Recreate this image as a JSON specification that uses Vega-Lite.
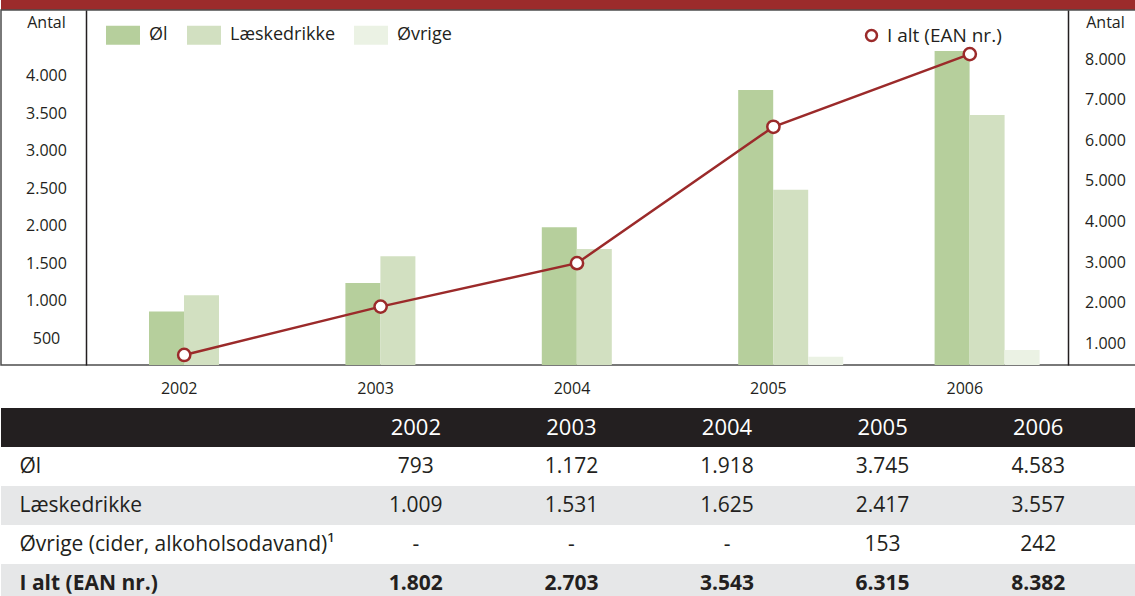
{
  "$schema": "https://vega.github.io/schema/vega-lite/v6.json",
  "padding": 0,
  "spacing": 0,
  "bounds": "flush",
  "background": "white",
  "config": {"view": {"stroke": null}, "font": "Open Sans", "text": {"font": "Open Sans"}},
  "datasets": {
    "bars": [
      {"year": "2002", "series": "Øl", "value": 793},
      {"year": "2002", "series": "Læskedrikke", "value": 1009},
      {"year": "2003", "series": "Øl", "value": 1172},
      {"year": "2003", "series": "Læskedrikke", "value": 1531},
      {"year": "2004", "series": "Øl", "value": 1918},
      {"year": "2004", "series": "Læskedrikke", "value": 1625},
      {"year": "2005", "series": "Øl", "value": 3745},
      {"year": "2005", "series": "Læskedrikke", "value": 2417},
      {"year": "2005", "series": "Øvrige", "value": 190},
      {"year": "2006", "series": "Øl", "value": 4267},
      {"year": "2006", "series": "Læskedrikke", "value": 3413},
      {"year": "2006", "series": "Øvrige", "value": 280}
    ],
    "total": [
      {"year": "2002", "total": 590},
      {"year": "2003", "total": 1780},
      {"year": "2004", "total": 2850},
      {"year": "2005", "total": 6210},
      {"year": "2006", "total": 8000}
    ],
    "rows": [
      {"row": "hdr"},
      {"row": "Øl"},
      {"row": "Læskedrikke"},
      {"row": "Øvrige (cider, alkoholsodavand)¹"},
      {"row": "I alt (EAN nr.)"}
    ],
    "table": [
      {"row": "hdr", "year": "2002", "text": "2002"},
      {"row": "hdr", "year": "2003", "text": "2003"},
      {"row": "hdr", "year": "2004", "text": "2004"},
      {"row": "hdr", "year": "2005", "text": "2005"},
      {"row": "hdr", "year": "2006", "text": "2006"},
      {"row": "Øl", "year": "2002", "text": "793"},
      {"row": "Øl", "year": "2003", "text": "1.172"},
      {"row": "Øl", "year": "2004", "text": "1.918"},
      {"row": "Øl", "year": "2005", "text": "3.745"},
      {"row": "Øl", "year": "2006", "text": "4.583"},
      {"row": "Læskedrikke", "year": "2002", "text": "1.009"},
      {"row": "Læskedrikke", "year": "2003", "text": "1.531"},
      {"row": "Læskedrikke", "year": "2004", "text": "1.625"},
      {"row": "Læskedrikke", "year": "2005", "text": "2.417"},
      {"row": "Læskedrikke", "year": "2006", "text": "3.557"},
      {"row": "Øvrige (cider, alkoholsodavand)¹", "year": "2002", "text": "-"},
      {"row": "Øvrige (cider, alkoholsodavand)¹", "year": "2003", "text": "-"},
      {"row": "Øvrige (cider, alkoholsodavand)¹", "year": "2004", "text": "-"},
      {"row": "Øvrige (cider, alkoholsodavand)¹", "year": "2005", "text": "153"},
      {"row": "Øvrige (cider, alkoholsodavand)¹", "year": "2006", "text": "242"},
      {"row": "I alt (EAN nr.)", "year": "2002", "text": "1.802"},
      {"row": "I alt (EAN nr.)", "year": "2003", "text": "2.703"},
      {"row": "I alt (EAN nr.)", "year": "2004", "text": "3.543"},
      {"row": "I alt (EAN nr.)", "year": "2005", "text": "6.315"},
      {"row": "I alt (EAN nr.)", "year": "2006", "text": "8.382"}
    ]
  },
  "vconcat": [
    {
      "width": 1135,
      "height": 10,
      "data": {"values": [{"band": "top"}]},
      "mark": {"type": "rect", "color": "#9c2b2b"},
      "encoding": {}
    },
    {
      "width": 1135,
      "height": 355,
      "view": {"stroke": "#4d4d4d", "strokeWidth": 1.5},
      "layer": [
        {
          "data": {"name": "bars"},
          "mark": {"type": "bar", "clip": true},
          "encoding": {
            "x": {
              "field": "year", "type": "ordinal",
              "scale": {"range": [85, 1067], "paddingInner": 0, "paddingOuter": 0},
              "axis": {"orient": "bottom", "title": null, "domain": false, "ticks": false, "tickSize": 0, "labelAngle": 0, "labelBaseline": "middle", "labelPadding": 23, "labelOffset": -5, "labelFontSize": 16, "labelColor": "#231f20", "labelFont": "Open Sans"}
            },
            "xOffset": {
              "field": "series", "type": "nominal",
              "scale": {"domain": ["Øl", "Læskedrikke", "Øvrige"], "range": [63, 168], "paddingInner": 0, "paddingOuter": 0}
            },
            "y": {
              "field": "value", "type": "quantitative",
              "scale": {"domain": [80, 4813], "zero": false, "nice": false},
              "axis": {
                "orient": "left", "offset": -85,
                "values": [500, 1000, 1500, 2000, 2500, 3000, 3500, 4000],
                "labelExpr": "replace(format(datum.value, ','), ',', '.')",
                "grid": false, "ticks": false, "tickSize": 0,
                "domain": true, "domainColor": "#231f20", "domainWidth": 1.5,
                "labelAlign": "center", "labelPadding": 40, "labelOffset": 5,
                "labelFontSize": 16, "labelColor": "#231f20", "labelFont": "Open Sans",
                "title": "Antal", "titleAngle": 0, "titleAlign": "center", "titleBaseline": "middle",
                "titleX": -40, "titleY": 12, "titleFontSize": 16, "titleFontWeight": "normal",
                "titleColor": "#231f20", "titleFont": "Open Sans"
              }
            },
            "color": {
              "field": "series", "type": "nominal",
              "scale": {"domain": ["Øl", "Læskedrikke", "Øvrige"], "range": ["#b6cf9c", "#d2e0c1", "#ebf2e4"]},
              "legend": {
                "orient": "none", "legendX": 105, "legendY": 18, "direction": "horizontal",
                "title": null, "padding": 0,
                "symbolType": "M-1,-0.56H1V0.56H-1Z", "symbolSize": 1156, "symbolStrokeWidth": 0,
                "labelFontSize": 18, "labelColor": "#231f20", "labelFont": "Open Sans",
                "labelOffset": 9, "columnPadding": 19
              }
            }
          }
        },
        {
          "data": {"name": "total"},
          "layer": [
            {
              "mark": {"type": "line", "strokeWidth": 2.5},
              "encoding": {
                "x": {"field": "year", "type": "ordinal"},
                "y": {
                  "field": "total", "type": "quantitative",
                  "scale": {"domain": [342, 9086], "zero": false, "nice": false},
                  "axis": {
                    "orient": "right", "offset": -68,
                    "values": [1000, 2000, 3000, 4000, 5000, 6000, 7000, 8000],
                    "labelExpr": "replace(format(datum.value, ','), ',', '.')",
                    "grid": false, "ticks": false, "tickSize": 0,
                    "domain": true, "domainColor": "#231f20", "domainWidth": 1.5,
                    "labelAlign": "center", "labelPadding": 37, "labelOffset": 5,
                    "labelFontSize": 16, "labelColor": "#231f20", "labelFont": "Open Sans",
                    "title": "Antal", "titleAngle": 0, "titleAlign": "center", "titleBaseline": "middle",
                    "titleX": 37, "titleY": 12, "titleFontSize": 16, "titleFontWeight": "normal",
                    "titleColor": "#231f20", "titleFont": "Open Sans"
                  }
                },
                "stroke": {
                  "datum": "I alt (EAN nr.)",
                  "scale": {"range": ["#9b2a2a"]},
                  "legend": {
                    "orient": "none", "legendX": 861, "legendY": 26, "title": null, "padding": 0,
                    "symbolType": "circle", "symbolSize": 120, "symbolFillColor": "white",
                    "symbolStrokeWidth": 2.5,
                    "labelFontSize": 19, "labelColor": "#231f20", "labelFont": "Open Sans", "labelOffset": 6
                  }
                }
              }
            },
            {
              "mark": {"type": "point", "shape": "circle", "filled": true, "fill": "white", "stroke": "#9b2a2a", "strokeWidth": 2.5, "size": 150, "opacity": 1},
              "encoding": {
                "x": {"field": "year", "type": "ordinal"},
                "y": {"field": "total", "type": "quantitative"}
              }
            }
          ]
        }
      ],
      "resolve": {"scale": {"y": "independent"}}
    },
    {
      "width": 1135,
      "height": 231,
      "layer": [
        {
          "data": {"name": "rows"},
          "mark": {"type": "rect", "clip": true},
          "encoding": {
            "y": {
              "field": "row", "type": "nominal",
              "scale": {"domain": ["hdr", "Øl", "Læskedrikke", "Øvrige (cider, alkoholsodavand)¹", "I alt (EAN nr.)"], "range": [43, 238], "paddingInner": 0, "paddingOuter": 0},
              "axis": {
                "orient": "left", "title": null, "domain": false, "ticks": false, "tickSize": 0, "grid": false,
                "labelExpr": "datum.value == 'hdr' ? '' : datum.value",
                "labelAlign": "left", "labelPadding": -18, "labelLimit": 0,
                "labelFontSize": 21, "labelColor": "#231f20", "labelFont": "Open Sans",
                "labelFontWeight": {"condition": {"test": "datum.value == 'I alt (EAN nr.)'", "value": "bold"}, "value": "normal"},
                "zindex": 1
              }
            },
            "fill": {
              "field": "row", "type": "nominal",
              "scale": {"domain": ["hdr", "Øl", "Læskedrikke", "Øvrige (cider, alkoholsodavand)¹", "I alt (EAN nr.)"], "range": ["#231f20", "#ffffff", "#e6e7e8", "#ffffff", "#e6e7e8"]},
              "legend": null
            }
          }
        },
        {
          "data": {"name": "table"},
          "transform": [{"filter": "datum.row == 'hdr'"}],
          "mark": {"type": "text", "color": "#ffffff", "fontSize": 22, "font": "Open Sans", "clip": true},
          "encoding": {
            "x": {"field": "year", "type": "ordinal", "scale": {"range": [337, 1115], "paddingInner": 0, "paddingOuter": 0}, "axis": null},
            "y": {"field": "row", "type": "nominal"},
            "text": {"field": "text"}
          }
        },
        {
          "data": {"name": "table"},
          "transform": [{"filter": "datum.row != 'hdr' && datum.row != 'I alt (EAN nr.)'"}],
          "mark": {"type": "text", "color": "#231f20", "fontSize": 21, "font": "Open Sans", "clip": true},
          "encoding": {
            "x": {"field": "year", "type": "ordinal"},
            "y": {"field": "row", "type": "nominal"},
            "text": {"field": "text"}
          }
        },
        {
          "data": {"name": "table"},
          "transform": [{"filter": "datum.row == 'I alt (EAN nr.)'"}],
          "mark": {"type": "text", "color": "#231f20", "fontSize": 21, "fontWeight": "bold", "font": "Open Sans", "clip": true},
          "encoding": {
            "x": {"field": "year", "type": "ordinal"},
            "y": {"field": "row", "type": "nominal"},
            "text": {"field": "text"}
          }
        }
      ]
    }
  ]
}
